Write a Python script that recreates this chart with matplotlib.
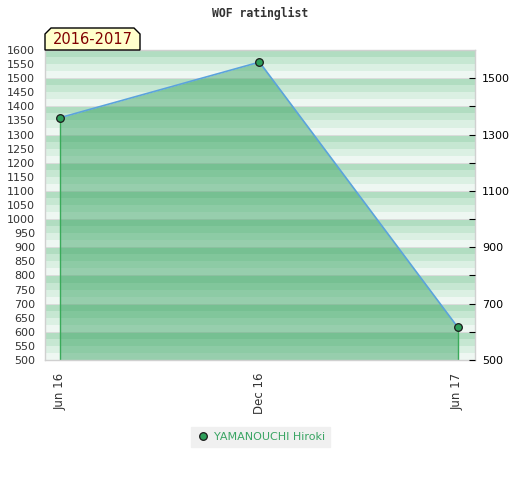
import matplotlib.pyplot as plt
import numpy as np
from datetime import datetime
from matplotlib.patches import Polygon

# Data
dates = [datetime(2016, 6, 1), datetime(2016, 12, 1), datetime(2017, 6, 1)]
ratings = [1360, 1557, 617]
tick_labels = ["Jun 16", "Dec 16", "Jun 17"]
player = "YAMANOUCHI Hiroki"
period = "2016-2017"

plt.rcParams['font.family'] = ['DejaVu Sans']

fig = plt.figure(figsize=(5.2, 4.8), dpi=100)
ax = fig.add_axes([45 / 520, 1 - 360 / 480, 430 / 520, 310 / 480])

# striped background, 4 shades per 100 points
shades = ["#b1ddc1", "#c6e7d2", "#dbf0e3", "#eef7f2"]
for i, lo in enumerate(np.arange(1575, 499, -25)):
    ax.axhspan(lo, lo + 25, color=shades[i % 4], lw=0, zorder=0)
for yv in range(500, 1601, 100):
    ax.axhline(yv, color="#dcdcdc", lw=0.7, zorder=0.5)

ax.fill_between(dates, ratings, 500, color="#2e9e5a", alpha=0.45, lw=0, zorder=1)
ax.vlines([dates[0], dates[-1]], 500, [ratings[0], ratings[-1]], color="#3aaa5a", lw=1, zorder=2)
ax.plot(dates, ratings, color="#5ba3dc", lw=1.2, zorder=3)
ax.plot(dates, ratings, "o", ms=5.5, mfc="#2e9e5a", mec="#1a1a1a", mew=0.9, zorder=4,
        label=player)

ax.set_xlim(datetime(2016, 5, 18), datetime(2017, 6, 17))
ax.set_ylim(500, 1600)
ax.set_xticks(dates)
ax.set_xticklabels(tick_labels, rotation=90, fontsize=8.5, color="#333333")
ax.set_yticks(range(500, 1601, 50))
ax.tick_params(axis="y", length=0, labelsize=8, labelcolor="#333333", pad=7)
ax.tick_params(axis="x", length=0, pad=9)

for s in ax.spines.values():
    s.set_color("#d0d0d0")
    s.set_linewidth(1)

ax2 = ax.twinx()
ax2.set_ylim(500, 1600)
ax2.set_yticks(range(500, 1600, 200))
ax2.set_yticks(range(600, 1600, 200), minor=True)
ax2.tick_params(axis="y", which="both", direction="in", length=4, width=0.8,
                labelsize=8, pad=5, color="black")
for s in ax2.spines.values():
    s.set_visible(False)

# title
fig.text(0.5, 1 - 13 / 480, "WOF ratinglist", ha="center", va="center",
         family="DejaVu Sans Mono", fontweight="bold", fontsize=8.3, color="#333333")

# period box with cut corners
x0, x1, y0, y1, c = 45, 140, 50, 28, 6
pts = [(x0, y0), (x0, y1 + c), (x0 + c, y1), (x1 - c, y1), (x1, y1 + c), (x1, y0)]
pts = [(px / 520, 1 - py / 480) for px, py in pts]
fig.patches.append(Polygon(pts, closed=True, transform=fig.transFigure,
                           facecolor="#ffffcc", edgecolor="black", lw=1, zorder=5))
fig.text(92.5 / 520, 1 - 40 / 480, period, ha="center", va="center",
         fontsize=10.5, color="#800000", zorder=6)

leg = ax.legend(loc="center", bbox_to_anchor=(260.5 / 520, 1 - 436.5 / 480),
                bbox_transform=fig.transFigure, frameon=True, fancybox=False,
                facecolor="#f0f0f0", edgecolor="#f0f0f0", framealpha=1,
                fontsize=8, labelcolor="#3aa564", handletextpad=0.4,
                borderpad=0.45, borderaxespad=0, handlelength=1.2)

fig.savefig("out.png", dpi=100)
